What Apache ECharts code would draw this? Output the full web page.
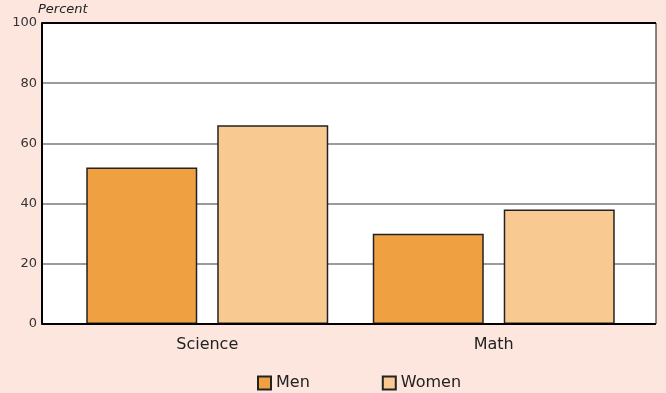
<!DOCTYPE html>
<html>
<head>
<meta charset="utf-8">
<script src="https://cdn.jsdelivr.net/npm/echarts@6/dist/echarts.min.js"></script>
<style>
  html, body { margin: 0; padding: 0; background: #fde6de; }
  #main { width: 666px; height: 393px; }
</style>
</head>
<body>
<div id="main"></div>
<script>
var categories = ['Science', 'Math'];
var menValues = [52, 30];
var womenValues = [66, 38];
var yTicks = [0, 20, 40, 60, 80, 100];

var chart = echarts.init(document.getElementById('main'));
var font = 'DejaVu Sans';

var option = {
    backgroundColor: '#fde6de',
    animation: false,
    grid: [
        // frame + value axis
        { left: 42, right: 10, top: 23, bottom: 69, show: true, backgroundColor: '#fff', borderColor: '#111', borderWidth: 1 },
        // bars sit slightly inset inside the frame
        { left: 64, width: 573, top: 23, bottom: 69 }
    ],
    xAxis: [
        { gridIndex: 0, type: 'value', min: 0, max: 1, show: false },
        {
            gridIndex: 1, type: 'category', data: categories,
            axisLine: { show: false }, axisTick: { show: false },
            axisLabel: { color: '#222', fontFamily: font, fontSize: 16, margin: 13 }
        }
    ],
    yAxis: [
        {
            gridIndex: 0, type: 'value', min: 0, max: 100, interval: 20,
            name: 'Percent', nameLocation: 'end', nameGap: 4,
            nameTextStyle: { color: '#222', fontFamily: font, fontSize: 13, fontStyle: 'italic', align: 'left', padding: [0, 0, 0, -4] },
            axisLine: { show: true, lineStyle: { color: '#000', width: 2 } },
            axisTick: { show: false },
            axisLabel: {
                color: '#333', fontFamily: font, fontSize: 13, margin: 5,
                formatter: function (v) { return yTicks.indexOf(v) >= 0 ? v : ''; }
            },
            splitLine: { show: true, lineStyle: { color: '#7a7a7a', width: 1.5 } }
        },
        { gridIndex: 1, type: 'value', min: 0, max: 100, show: false }
    ],
    legend: {
        top: 370, left: 252, itemGap: 72,
        itemWidth: 13, itemHeight: 13, icon: 'rect',
        textStyle: { color: '#222', fontFamily: font, fontSize: 16 },
        data: ['Men', 'Women']
    },
    series: [
        {
            name: 'Men', type: 'bar', xAxisIndex: 1, yAxisIndex: 1,
            data: menValues, barWidth: 111, barGap: '18%',
            itemStyle: { color: '#efa142', borderColor: '#222', borderWidth: 1.5 }
        },
        {
            name: 'Women', type: 'bar', xAxisIndex: 1, yAxisIndex: 1,
            data: womenValues, barWidth: 111, barGap: '18%',
            itemStyle: { color: '#f8c991', borderColor: '#222', borderWidth: 1.5 }
        },
        {
            // top and bottom heavy frame lines
            type: 'line', xAxisIndex: 0, yAxisIndex: 0, silent: true, data: [],
            markLine: {
                symbol: 'none', silent: true, label: { show: false },
                lineStyle: { color: '#000', width: 2, type: 'solid' },
                data: [{ yAxis: 100 }, { yAxis: 0 }]
            }
        }
    ]
};

chart.setOption(option);
</script>
</body>
</html>
